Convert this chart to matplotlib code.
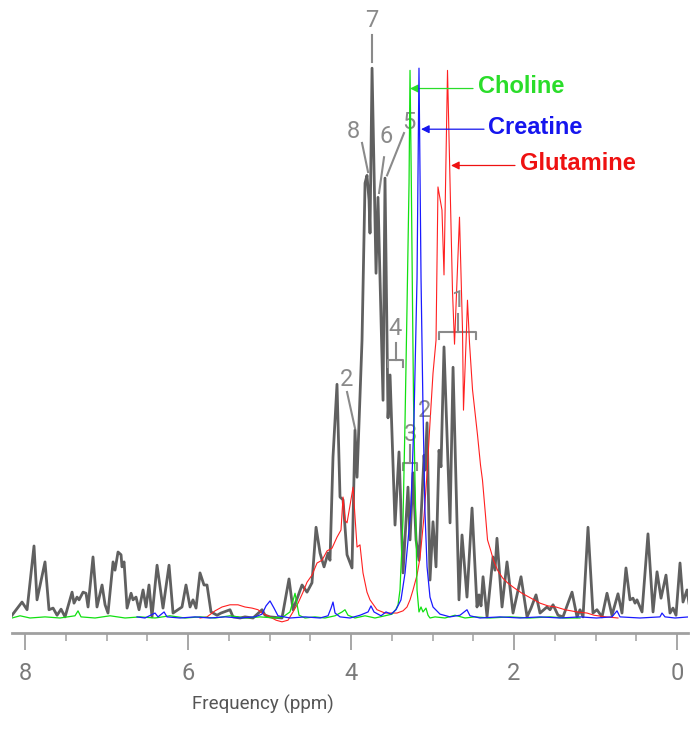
import matplotlib
matplotlib.use("Agg")
import matplotlib.pyplot as plt
from matplotlib.ticker import MultipleLocator

# MR spectrum (gray) with metabolite reference spectra
# ppm / intensity (0 = baseline, 100 = tallest peak)
spec_ppm = [8.160, 8.037, 7.975, 7.890, 7.853, 7.755, 7.706, 7.656, 7.607, 7.558,
            7.509, 7.423, 7.399, 7.362, 7.337, 7.288, 7.252, 7.227, 7.166, 7.117,
            7.055, 7.018, 6.982, 6.920, 6.896, 6.859, 6.822, 6.810, 6.785, 6.748,
            6.699, 6.675, 6.638, 6.601, 6.552, 6.515, 6.479, 6.442, 6.380, 6.307,
            6.233, 6.184, 6.123, 6.074, 6.025, 5.975, 5.939, 5.902, 5.853, 5.804,
            5.767, 5.718, 5.644, 5.595, 5.485, 5.448, 5.362, 5.301, 5.202, 5.092,
            5.055, 4.994, 4.847, 4.761, 4.712, 4.601, 4.540, 4.479, 4.429, 4.380,
            4.331, 4.282, 4.258, 4.221, 4.172, 4.135, 4.098, 4.049, 3.988, 3.951,
            3.926, 3.865, 3.828, 3.804, 3.779, 3.767, 3.742, 3.693, 3.669, 3.607,
            3.583, 3.546, 3.521, 3.460, 3.411, 3.362, 3.301, 3.276, 3.239, 3.202,
            3.166, 3.104, 3.092, 3.067, 3.031, 2.994, 2.957, 2.920, 2.896, 2.859,
            2.785, 2.748, 2.675, 2.638, 2.577, 2.515, 2.454, 2.429, 2.405, 2.380,
            2.331, 2.258, 2.233, 2.209, 2.147, 2.086, 2.012, 1.914, 1.840, 1.791,
            1.730, 1.681, 1.595, 1.558, 1.521, 1.460, 1.399, 1.288, 1.227, 1.190,
            1.153, 1.092, 1.031, 0.982, 0.920, 0.859, 0.798, 0.724, 0.675, 0.626,
            0.577, 0.540, 0.515, 0.491, 0.429, 0.356, 0.294, 0.245, 0.196, 0.135,
            0.086, 0.049, 0.012, -0.037, -0.074, -0.123, -0.147]
spec_int = [0.5, 2.9, 1.5, 13.1, 3.3, 10.2, 1.5, 1.8, 0.5, 1.6,
            0.2, 4.7, 2.7, 3.8, 3.3, 4.7, 4.5, 2.0, 11.1, 2.0,
            6.0, 2.4, 0.9, 10.2, 8.7, 12.0, 11.5, 9.3, 10.2, 1.8,
            4.5, 3.3, 3.8, 1.5, 5.1, 2.0, 6.0, 0.2, 9.6, 1.8,
            9.6, 0.9, 1.5, 2.0, 6.0, 2.0, 3.3, 1.8, 8.2, 6.0,
            6.0, 1.1, 0.5, 0.9, 1.5, 0.2, 0.0, 0.2, 0.0, 1.5,
            0.5, 0.2, 0.0, 7.1, 1.5, 6.0, 4.7, 6.4, 16.5, 11.8,
            9.3, 11.8, 10.5, 29.3, 42.5, 22.0, 21.5, 11.5, 9.1, 34.2,
            25.6, 50.5, 79.1, 80.5, 76.0, 70.0, 100.0, 62.7, 76.5, 39.6,
            80.0, 36.4, 44.2, 16.9, 30.2, 8.2, 23.8, 14.2, 26.4, 14.2,
            10.5, 29.6, 26.9, 35.5, 6.9, 17.5, 9.3, 30.5, 27.5, 49.3,
            17.3, 45.6, 3.3, 15.1, 3.8, 20.0, 2.0, 4.2, 2.2, 7.5,
            0.2, 11.1, 8.7, 14.5, 2.0, 10.2, 0.9, 7.5, 0.2, 1.8,
            4.2, 0.9, 2.0, 1.5, 2.4, 0.5, 0.2, 4.7, 0.2, 1.5,
            0.2, 16.5, 0.9, 1.5, 0.2, 4.5, 0.5, 4.4, 0.9, 9.1,
            3.3, 3.6, 2.7, 3.3, 1.1, 15.3, 1.1, 8.4, 3.6, 7.8,
            0.9, 1.8, 0.5, 10.0, 2.9, 5.1, 2.7]

cho_ppm = [8.160, 8.061, 7.939, 7.755, 7.571, 7.387, 7.350, 7.313, 7.141, 6.957,
           6.773, 6.589, 6.405, 6.221, 6.037, 5.853, 5.669, 5.485, 5.301, 5.117,
           4.933, 4.834, 4.749, 4.687, 4.638, 4.564, 4.442, 4.319, 4.196, 4.110,
           4.074, 4.037, 3.951, 3.828, 3.706, 3.583, 3.497, 3.448, 3.423, 3.399,
           3.362, 3.337, 3.313, 3.288, 3.276, 3.260, 3.245, 3.233, 3.215, 3.202,
           3.190, 3.166, 3.141, 3.117, 3.080, 3.055, 3.031, 2.969, 2.847, 2.724,
           2.601, 2.479, 2.294, 2.049, 1.804, 1.558, 1.374, 1.190]
cho_int = [0.0, 0.4, 0.0, 0.2, 0.0, 0.4, 1.3, 0.2, 0.0, 0.4,
           0.0, 0.2, 0.0, 0.4, 0.0, 0.2, 0.0, 0.4, 0.0, 0.2,
           0.0, 0.2, 1.1, 4.5, 0.5, 0.0, 0.2, 0.0, 0.4, 1.1,
           1.5, 0.5, 0.0, 0.4, 0.0, 0.4, 0.7, 1.6, 2.4, 5.1,
           17.8, 36.0, 56.4, 79.1, 99.6, 79.1, 56.4, 39.6, 25.1, 15.5,
           5.1, 1.1, 2.0, 1.1, 1.8, 0.5, 0.0, 0.2, 0.0, 0.5,
           0.0, 0.2, 0.0, 0.2, 0.0, 0.2, 0.0, 0.0]

cr_ppm = [6.626, 6.528, 6.405, 6.368, 6.294, 6.258, 6.098, 5.914, 5.730, 5.546,
          5.362, 5.178, 5.092, 5.043, 4.994, 4.945, 4.896, 4.748, 4.564, 4.380,
          4.282, 4.245, 4.221, 4.196, 4.135, 4.012, 3.890, 3.791, 3.755, 3.718,
          3.632, 3.571, 3.509, 3.448, 3.387, 3.337, 3.264, 3.227, 3.190, 3.166,
          3.141, 3.117, 3.092, 3.067, 3.031, 2.994, 2.908, 2.785, 2.663, 2.577,
          2.540, 2.417, 2.172, 1.926, 1.681, 1.436, 1.190, 0.988, 0.798, 0.736,
          0.699, 0.454, 0.209, 0.184, 0.147, 0.025, -0.147]
cr_int = [0.2, 0.0, 0.9, 0.2, 1.1, 0.2, 0.0, 0.2, 0.0, 0.2,
          0.0, 0.2, 0.7, 2.2, 3.1, 1.8, 0.4, 0.0, 0.2, 0.0,
          0.4, 1.8, 2.9, 0.9, 0.2, 0.0, 0.5, 1.1, 2.2, 1.1,
          0.4, 1.1, 0.7, 1.5, 3.3, 8.2, 20.0, 36.4, 61.8, 100.0,
          61.8, 38.2, 19.1, 9.3, 3.8, 2.0, 0.7, 0.2, 0.5, 1.5,
          0.4, 0.0, 0.2, 0.0, 0.2, 0.0, 0.2, 0.0, 0.2, 1.3,
          0.2, 0.0, 0.2, 0.9, 0.2, 0.0, 0.2]

glu_ppm = [5.853, 5.767, 5.669, 5.583, 5.485, 5.387, 5.301, 5.215, 5.141, 5.092,
           4.994, 4.920, 4.847, 4.773, 4.712, 4.650, 4.589, 4.540, 4.479, 4.417,
           4.356, 4.294, 4.233, 4.172, 4.123, 4.098, 4.074, 4.049, 4.012, 3.975,
           3.951, 3.926, 3.890, 3.853, 3.804, 3.767, 3.681, 3.583, 3.436, 3.362,
           3.313, 3.276, 3.239, 3.190, 3.153, 3.104, 3.067, 3.031, 2.994, 2.957,
           2.933, 2.884, 2.859, 2.816, 2.755, 2.730, 2.669, 2.632, 2.620, 2.583,
           2.571, 2.546, 2.509, 2.448, 2.411, 2.387, 2.350, 2.325, 2.288, 2.252,
           2.202, 2.141, 2.080, 2.000, 1.902, 1.791, 1.681, 1.583, 1.485, 1.374,
           1.227, 1.104, 1.018, 0.871, 0.724]
glu_int = [0.0, 0.2, 1.3, 2.0, 2.4, 2.4, 2.0, 1.8, 1.5, 0.9,
           0.2, -0.4, -0.7, -0.4, 1.1, 2.7, 4.7, 6.5, 7.8, 10.0,
           10.5, 12.2, 12.7, 14.7, 16.0, 22.0, 17.8, 17.3, 20.5, 23.8,
           18.4, 12.9, 13.3, 8.2, 4.7, 3.3, 1.5, 0.9, 0.9, 1.3,
           2.0, 3.3, 5.1, 7.8, 11.0, 18.5, 26.4, 35.5, 44.5, 50.5,
           78.4, 74.2, 62.4, 99.6, 59.5, 49.8, 72.9, 52.4, 37.8, 52.4,
           57.8, 50.0, 41.5, 33.3, 27.8, 25.1, 18.7, 14.2, 12.4, 10.5,
           8.7, 7.3, 6.4, 5.5, 4.5, 3.6, 2.7, 2.2, 2.0, 1.5,
           1.1, 0.9, 0.5, 0.2, 0.0]

axis_ticks = [8, 6, 4, 2, 0]

fig = plt.figure(figsize=(7, 7.33), dpi=100)
ax = fig.add_axes([12 / 700, 100 / 733, 676 / 700, 633 / 733])

ax.plot(spec_ppm, spec_int, color="#606060", lw=2.0, solid_joinstyle="round", zorder=2)
ax.plot(glu_ppm, glu_int, color="#ff2020", lw=0.8, zorder=3)
ax.plot(cho_ppm, cho_int, color="#11e011", lw=0.9, zorder=4)
ax.plot(cr_ppm, cr_int, color="#1a1aff", lw=0.9, zorder=4)

ax.set_xlim(8.16, -0.135)
ax.set_ylim(-2.73, 112.4)

for side in ["top", "left", "right"]:
    ax.spines[side].set_visible(False)
ax.spines["bottom"].set_color("#a0a0a0")
ax.spines["bottom"].set_linewidth(2)
ax.set_yticks([])
ax.set_xticks(axis_ticks)
ax.xaxis.set_minor_locator(MultipleLocator(0.5))
ax.tick_params(axis="x", which="major", length=12, width=1.3, color="#a0a0a0",
               pad=9, labelsize=17, labelcolor="#7a7a7a")
ax.tick_params(axis="x", which="minor", length=6, width=1.1, color="#a0a0a0")
for lab in ax.get_xticklabels():
    lab.set_family("Roboto")
ax.set_xlabel("Frequency (ppm)", fontsize=13.5, color="#555555", family="Roboto")
ax.xaxis.set_label_coords(0.371, -0.098)

# peak numbering, gray
gray = "#8a8a8a"
num_kw = dict(color=gray, fontsize=17, ha="center", va="center", family="Roboto")
ax.text(3.742, 108.7, "7", **num_kw)
ax.plot([3.742, 3.742], [106.0, 101.1], color=gray, lw=1.5)
ax.text(3.975, 88.5, "8", **num_kw)
ax.plot([3.865, 3.791], [86.4, 81.1], color=gray, lw=1.5)
ax.text(3.571, 87.5, "6", **num_kw)
ax.plot([3.595, 3.656], [83.8, 77.3], color=gray, lw=1.5)
ax.text(3.288, 90.2, "5", **num_kw)
ax.plot([3.350, 3.558], [88.2, 80.5], color=gray, lw=1.5)
ax.text(4.049, 43.3, "2", **num_kw)
ax.plot([4.049, 3.951], [41.1, 34.5], color=gray, lw=1.5)
ax.text(3.092, 37.8, "2", **num_kw)


def bracket(x0, x1, y, label, ly):
    xm = (x0 + x1) / 2
    ax.plot([x0, x0, x1, x1], [y - 1.3, y, y, y - 1.3], color=gray, lw=1.5)
    ax.plot([xm, xm], [y, y + 3.2], color=gray, lw=1.5)
    ax.text(xm, ly, label, **num_kw)


bracket(3.546, 3.362, 46.9, "4", 52.7)
bracket(2.920, 2.466, 52.0, "1", 57.8)
bracket(3.362, 3.190, 28.2, "3", 33.3)

# metabolite labels with arrows
lab_kw = dict(fontsize=17, fontweight="bold", family="Liberation Sans", va="center", ha="left")
for name, col, txt_x, arr_x0, arr_x1, yy in [
        ("Choline", "#2add2a", 2.442, 2.503, 3.276, 96.3),
        ("Creatine", "#1515ee", 2.319, 2.368, 3.141, 88.9),
        ("Glutamine", "#ee1111", 1.926, 1.988, 2.773, 82.3)]:
    ax.annotate("", xy=(arr_x1, yy), xytext=(arr_x0, yy),
                arrowprops=dict(arrowstyle="-|>", color=col, lw=0.9, mutation_scale=12,
                                shrinkA=0, shrinkB=0))
    ax.text(txt_x, yy + 0.3, name, color=col, **lab_kw)

fig.savefig("out.png", dpi=100)
